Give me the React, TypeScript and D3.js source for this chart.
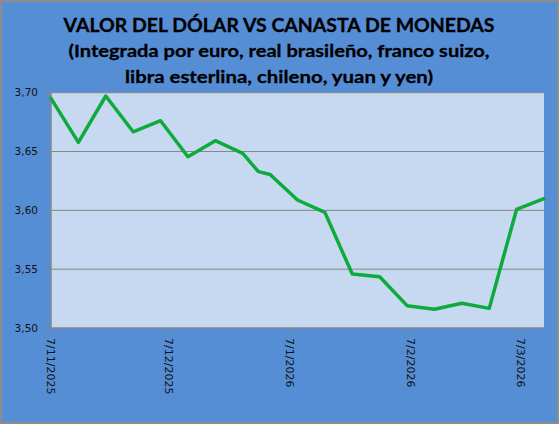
import React from "react";
import * as d3 from "d3";

const dates: string[] = [
  "2025-11-07", "2025-11-14", "2025-11-21", "2025-11-28", "2025-12-05",
  "2025-12-12", "2025-12-19", "2025-12-26", "2025-12-30", "2026-01-02",
  "2026-01-09", "2026-01-16", "2026-01-23", "2026-01-30", "2026-02-06",
  "2026-02-13", "2026-02-20", "2026-02-27", "2026-03-06", "2026-03-13",
];
const values: number[] = [
  3.6952, 3.6578, 3.6972, 3.6668, 3.6762,
  3.6456, 3.6592, 3.6485, 3.6329, 3.6305,
  3.6088, 3.5983, 3.5459, 3.5436, 3.519,
  3.5159, 3.521, 3.5167, 3.6009, 3.6099,
];
const yTicks: number[] = [3.5, 3.55, 3.6, 3.65, 3.7];
const xTickDates: string[] = ["2025-11-07", "2025-12-07", "2026-01-07", "2026-02-07", "2026-03-07"];
const xTickLabels: string[] = ["7/11/2025", "7/12/2025", "7/1/2026", "7/2/2026", "7/3/2026"];
const titleLines: string[] = [
  "VALOR DEL DÓLAR VS CANASTA DE MONEDAS",
  "(Integrada por euro, real brasileño, franco suizo,",
  "libra esterlina, chileno, yuan y yen)",
];

const W = 559;
const H = 424;
const plot = { left: 51, right: 544, top: 92.7, bottom: 328 };

export default function App() {
  const parse = d3.utcParse("%Y-%m-%d");
  const pts = dates.map((d, i) => ({ date: parse(d) as Date, value: values[i] }));
  const x = d3
    .scaleUtc()
    .domain([parse("2025-11-07") as Date, parse("2026-03-13") as Date])
    .range([plot.left, plot.right]);
  const y = d3.scaleLinear().domain([3.5, 3.7]).range([plot.bottom, plot.top]);
  const line = d3
    .line<{ date: Date; value: number }>()
    .x((d) => x(d.date))
    .y((d) => y(d.value));
  const fmt = (v: number) => v.toFixed(2).replace(".", ",");

  const titleSpecs = [
    { size: 19.5, base: 31.5, width: 431 },
    { size: 17.5, base: 57, width: 421 },
    { size: 17.5, base: 83, width: 308 },
  ];

  return (
    <svg
      width={W}
      height={H}
      style={{ position: "absolute", left: 0, top: 0, display: "block" }}
    >
      <rect x={1} y={1} width={W - 2} height={H - 2} fill="#558ED5" stroke="#8C8C8C" strokeWidth={2} />
      {titleLines.map((t, i) => (
        <text
          key={i}
          x={279}
          y={titleSpecs[i].base}
          textAnchor="middle"
          fontFamily="Lato, 'Open Sans', sans-serif"
          fontWeight="bold"
          fontSize={titleSpecs[i].size}
          textLength={titleSpecs[i].width}
          lengthAdjust="spacingAndGlyphs"
          fill="#000"
          stroke="#000"
          strokeWidth={0.3}
        >
          {t}
        </text>
      ))}
      <rect
        x={plot.left}
        y={plot.top}
        width={plot.right - plot.left}
        height={plot.bottom - plot.top}
        fill="#C6D9F1"
      />
      {yTicks.map((t) => (
        <g key={t}>
          <line
            x1={plot.left - 5}
            x2={t === 3.5 ? plot.left : plot.right}
            y1={y(t)}
            y2={y(t)}
            stroke="#868686"
            strokeWidth={1}
          />
          <text
            x={38}
            y={y(t)}
            dy="0.35em"
            textAnchor="end"
            fontFamily="'DejaVu Sans', Verdana, sans-serif"
            fontSize={10.5}
            fill="#111"
          >
            {fmt(t)}
          </text>
        </g>
      ))}
      <line x1={plot.left} x2={plot.right} y1={plot.bottom} y2={plot.bottom} stroke="#868686" strokeWidth={1.5} />
      <line x1={plot.left} x2={plot.left} y1={plot.top} y2={plot.bottom} stroke="#868686" strokeWidth={1.5} />
      {xTickDates.map((d, i) => {
        const xp = x(parse(d) as Date);
        return (
          <g key={d}>
            <line x1={xp} x2={xp} y1={plot.bottom} y2={plot.bottom + 5} stroke="#868686" strokeWidth={1} />
            <text
              transform={`translate(${xp},${plot.bottom + 10}) rotate(90)`}
              dy="0.35em"
              textAnchor="start"
              fontFamily="'DejaVu Sans', Verdana, sans-serif"
              fontSize={11}
              fill="#111"
            >
              {xTickLabels[i]}
            </text>
          </g>
        );
      })}
      <path
        d={line(pts) || ""}
        fill="none"
        stroke="#0FAA3C"
        strokeWidth={3.5}
        strokeLinejoin="round"
        strokeLinecap="round"
      />
    </svg>
  );
}
